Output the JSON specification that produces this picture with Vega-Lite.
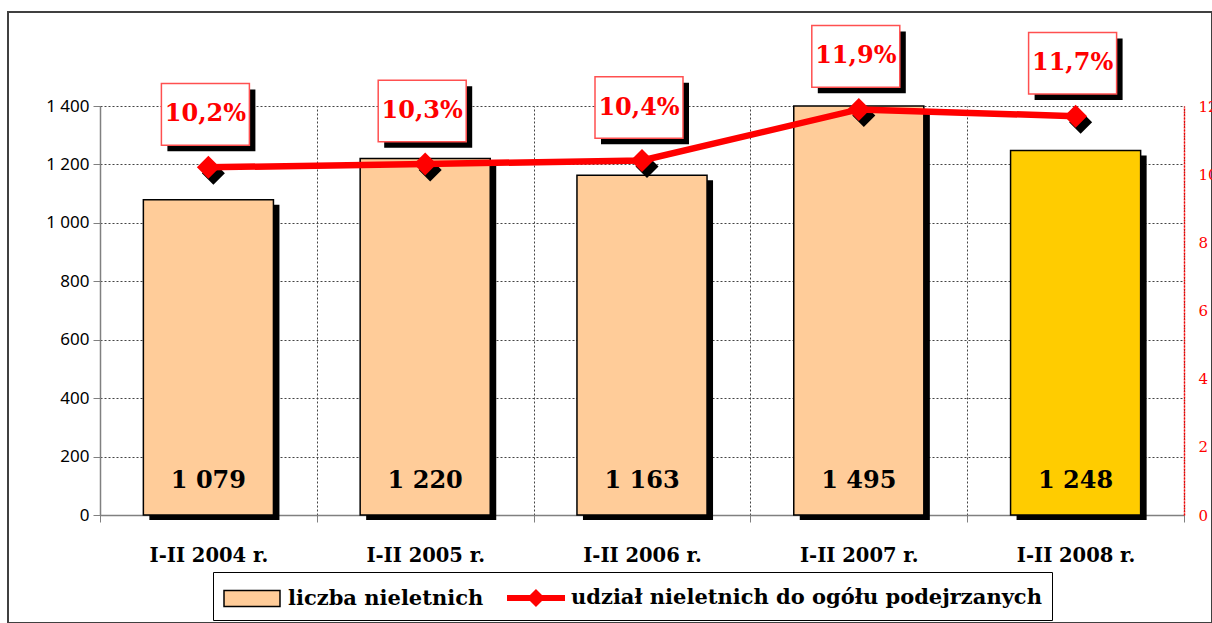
{
  "$schema": "https://vega.github.io/schema/vega-lite/v6.json",
  "width": 1204,
  "height": 611,
  "autosize": {"type": "none"},
  "padding": {"left": 8, "top": 12, "right": 0, "bottom": 0},
  "background": "white",
  "config": {
    "locale": {"number": {"decimal": ",", "thousands": " ", "grouping": [3], "currency": ["", "%"]}},
    "view": {"stroke": "#404040", "strokeWidth": 2},
    "font": "DejaVu Serif"
  },
  "data": {
    "values": [
      {"okres": "I-II 2004 r.", "liczba": 1079, "udzial": 10.2},
      {"okres": "I-II 2005 r.", "liczba": 1220, "udzial": 10.3},
      {"okres": "I-II 2006 r.", "liczba": 1163, "udzial": 10.4},
      {"okres": "I-II 2007 r.", "liczba": 1495, "udzial": 11.9},
      {"okres": "I-II 2008 r.", "liczba": 1248, "udzial": 11.7}
    ]
  },
  "layer": [
    {
      "encoding": {
        "x": {
          "field": "okres", "type": "nominal", "sort": null,
          "scale": {"paddingInner": 0, "paddingOuter": 0, "range": [92, 1176]},
          "axis": {
            "orient": "bottom", "title": null, "labelAngle": 0, "offset": -108,
            "labelFont": "DejaVu Serif", "labelFontWeight": "bold", "labelFontSize": 19.5,
            "labelColor": "black", "labelPadding": 24,
            "tickBand": "extent", "tickColor": "#808080", "tickSize": 7, "tickWidth": 1,
            "domainColor": "#808080", "domainWidth": 1.5, "grid": false
          }
        }
      },
      "layer": [
        {
          "mark": {"type": "bar", "fill": "black", "xOffset": 6, "yOffset": 5, "y2Offset": 0, "width": {"band": 0.6}},
          "encoding": {
            "y": {
              "field": "liczba", "type": "quantitative",
              "scale": {"domain": [0, 1400], "range": [503, 94], "clamp": true, "nice": false, "zero": true},
              "axis": {
                "orient": "left", "title": null, "offset": -92, "values": [0, 200, 400, 600, 800, 1000, 1200, 1400],
                "format": ",d", "labelFont": "Noto Sans", "labelFontSize": 17, "labelColor": "black",
                "labelPadding": 4, "tickSize": 7, "tickColor": "#808080", "domainColor": "#808080", "domainWidth": 1.5,
                "grid": true, "gridDash": [2, 2], "gridColor": "#444", "gridWidth": 1
              }
            }
          }
        },
        {
          "mark": {"type": "bar", "stroke": "black", "strokeWidth": 1.5, "width": {"band": 0.6}},
          "encoding": {
            "y": {"field": "liczba", "type": "quantitative"},
            "fill": {"condition": {"test": "datum.okres === 'I-II 2008 r.'", "value": "#FFCC00"}, "value": "#FFCC99"}
          }
        },
        {
          "mark": {"type": "text", "font": "DejaVu Serif", "fontWeight": "bold", "fontSize": 24, "color": "black", "baseline": "middle", "align": "center", "dy": -34},
          "encoding": {
            "y": {"datum": 0, "type": "quantitative"},
            "text": {"field": "liczba", "type": "quantitative", "format": ",d"}
          }
        },
        {
          "mark": {"type": "point", "filled": true, "opacity": 1, "size": 900, "strokeWidth": 1.5},
          "encoding": {
            "y": {"field": "legenda_brak", "type": "quantitative"},
            "fill": {
              "datum": "liczba nieletnich", "type": "nominal",
              "scale": {"domain": ["liczba nieletnich", "udział nieletnich do ogółu podejrzanych"], "range": ["#FFCC99", "#FF0000"]},
              "legend": {
                "title": null, "orient": "none", "legendX": 205, "legendY": 560,
                "direction": "horizontal", "strokeColor": "black", "fillColor": "white",
                "padding": 10, "labelFont": "DejaVu Serif", "labelFontWeight": "bold", "labelFontSize": 21,
                "labelColor": "black", "labelLimit": 700, "labelOffset": 33, "columnPadding": 20,
                "symbolSize": 900, "symbolOpacity": 1, "symbolStrokeWidth": 1.5
              }
            },
            "shape": {
              "datum": "liczba nieletnich", "type": "nominal",
              "scale": {"domain": ["liczba nieletnich", "udział nieletnich do ogółu podejrzanych"], "range": ["M-1,-0.533H2.733V0.533H-1Z", "M-1,-0.2H0.533L0.933,-0.6L1.333,-0.2H2.867V0.2H1.333L0.933,0.6L0.533,0.2H-1Z"]},
              "legend": {
                "title": null, "orient": "none", "legendX": 205, "legendY": 560,
                "direction": "horizontal", "strokeColor": "black", "fillColor": "white",
                "padding": 10, "labelFont": "DejaVu Serif", "labelFontWeight": "bold", "labelFontSize": 21,
                "labelColor": "black", "labelLimit": 700, "labelOffset": 33, "columnPadding": 20,
                "symbolSize": 900, "symbolOpacity": 1, "symbolStrokeWidth": 1.5
              }
            },
            "stroke": {
              "datum": "liczba nieletnich", "type": "nominal",
              "scale": {"domain": ["liczba nieletnich", "udział nieletnich do ogółu podejrzanych"], "range": ["#000000", "transparent"]},
              "legend": {
                "title": null, "orient": "none", "legendX": 205, "legendY": 560,
                "direction": "horizontal", "strokeColor": "black", "fillColor": "white",
                "padding": 10, "labelFont": "DejaVu Serif", "labelFontWeight": "bold", "labelFontSize": 21,
                "labelColor": "black", "labelLimit": 700, "labelOffset": 33, "columnPadding": 20,
                "symbolSize": 900, "symbolOpacity": 1, "symbolStrokeWidth": 1.5
              }
            }
          }
        }
      ]
    },
    {
      "encoding": {
        "x": {
          "field": "okres", "type": "nominal", "sort": null,
          "axis": {
            "orient": "top", "title": null, "labels": false, "ticks": false, "domain": false,
            "tickBand": "extent",
            "grid": true, "gridDash": [2, 2], "gridColor": "#444", "gridWidth": 1
          }
        }
      },
      "layer": [
        {
          "mark": {"type": "point", "shape": "diamond", "filled": true, "color": "black", "size": 529, "opacity": 1, "xOffset": 5, "yOffset": 6},
          "encoding": {
            "y": {
              "field": "udzial", "type": "quantitative",
              "scale": {"domain": [0, 12], "range": [503, 94], "nice": false},
              "axis": {
                "orient": "right", "title": null, "offset": -28, "values": [0, 2, 4, 6, 8, 10, 12],
                "labelFont": "DejaVu Serif", "labelFontSize": 15, "labelColor": "red", "labelPadding": 14,
                "ticks": false, "grid": false, "domainColor": "red", "domainDash": [2, 1], "domainWidth": 1.5
              }
            }
          }
        },
        {
          "mark": {"type": "line", "color": "#FF0000", "strokeWidth": 6.5},
          "encoding": {"y": {"field": "udzial", "type": "quantitative"}}
        },
        {
          "mark": {"type": "point", "shape": "diamond", "filled": true, "color": "#FF0000", "size": 529, "opacity": 1},
          "encoding": {"y": {"field": "udzial", "type": "quantitative"}}
        },
        {
          "mark": {"type": "point", "shape": "M-1,-0.7H1V0.7H-1Z", "filled": true, "color": "black", "size": 7744, "opacity": 1, "xOffset": 3, "yOffset": -47},
          "encoding": {"y": {"field": "udzial", "type": "quantitative"}}
        },
        {
          "mark": {"type": "point", "shape": "M-1,-0.7H1V0.7H-1Z", "filled": true, "fill": "white", "stroke": "#FF5050", "strokeWidth": 1.5, "size": 7744, "opacity": 1, "xOffset": -3, "yOffset": -53},
          "encoding": {"y": {"field": "udzial", "type": "quantitative"}}
        },
        {
          "mark": {"type": "text", "font": "DejaVu Serif", "fontWeight": "bold", "fontSize": 24, "color": "#FF0000", "baseline": "middle", "align": "center", "dx": -3, "dy": -53},
          "encoding": {
            "y": {"field": "udzial", "type": "quantitative"},
            "text": {"field": "udzial", "type": "quantitative", "format": "$.1f"}
          }
        }
      ]
    }
  ],
  "resolve": {"scale": {"y": "independent"}, "axis": {"x": "independent"}}
}
